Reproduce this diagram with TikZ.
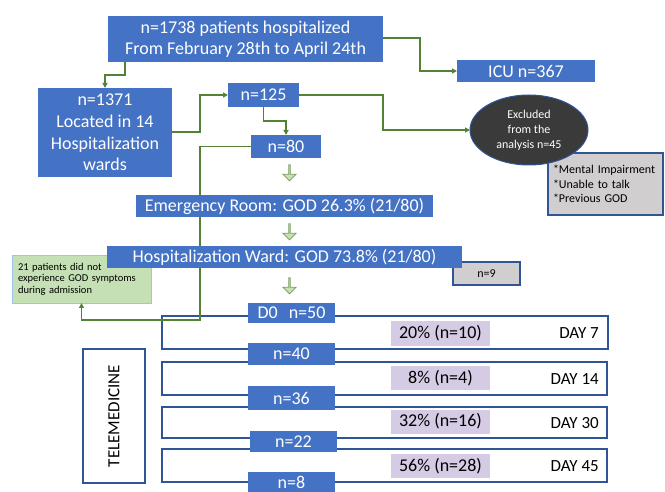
\documentclass[tikz,border=0pt]{standalone}
\usepackage{fontspec}
\setmainfont{Carlito}
\usetikzlibrary{shapes.geometric,shapes.arrows,arrows.meta}

\definecolor{boxblue}{HTML}{4472C4}
\definecolor{lineblue}{HTML}{2F5597}
\definecolor{flowgreen}{HTML}{548235}
\definecolor{paleGreen}{HTML}{C5E0B4}
\definecolor{paleBlue}{HTML}{9DC3E6}
\definecolor{critGray}{HTML}{D0CECE}
\definecolor{pctPurple}{HTML}{D5CBE4}
\definecolor{exclGray}{HTML}{3A3A3A}

\begin{document}
\begin{tikzpicture}[x=1pt,y=-1pt,
    bluebox/.style={fill=boxblue,text=white,inner sep=0pt,align=center,
      font=\fontsize{18}{21}\selectfont},
    flow/.style={draw=flowgreen,line width=1.6pt,
      -{Triangle[length=5pt,width=5pt]}},
    dayline/.style={draw=lineblue,line width=1.5pt,fill=white,inner sep=0pt},
    pct/.style={fill=pctPurple,inner sep=0pt,minimum width=99pt,minimum height=24pt,
      font=\fontsize{18}{20}\selectfont},
    daytext/.style={anchor=east,inner sep=0pt,font=\fontsize{17}{20}\selectfont},
    downarrow/.style={single arrow,shape border rotate=270,draw=flowgreen!80,
      fill=paleGreen,line width=0.8pt,inner sep=0pt,minimum width=13pt,
      minimum height=16pt,single arrow head extend=3.5pt}]
  \useasboundingbox (0,0) rectangle (665,492);

  % follow-up rows
  \node[dayline,minimum width=446pt,minimum height=33pt] (day7) at (385,332.5) {};
  \node[dayline,minimum width=445pt,minimum height=33pt] (day14) at (384.5,378.5) {};
  \node[dayline,minimum width=445pt,minimum height=31pt] (day30) at (384.5,422.5) {};
  \node[dayline,minimum width=445pt,minimum height=33pt] (day45) at (384.5,465.5) {};
  \node[pct] (p7) at (440.5,333.5) {20\% (n=10)};
  \node[pct] (p14) at (440.5,378) {8\% (n=4)};
  \node[pct] (p30) at (440.5,421.5) {32\% (n=16)};
  \node[pct] (p45) at (440.5,466) {56\% (n=28)};
  \node[daytext] (l7) at (599,333) {DAY 7};
  \node[daytext] (l14) at (599,379) {DAY 14};
  \node[daytext] (l30) at (599,423) {DAY 30};
  \node[daytext] (l45) at (599,466) {DAY 45};

  \node[draw=lineblue,line width=1.5pt,rotate=90,minimum width=134pt,
    minimum height=62pt,inner sep=0pt,font=\fontsize{17}{20}\selectfont] %
    (tele) at (114,416) {TELEMEDICINE};

  % side boxes
  \node[fill=paleGreen,draw=paleBlue,line width=0.8pt,minimum width=139pt,
    minimum height=48pt,text width=127pt,inner sep=0pt,align=left,
    font=\fontsize{10.5}{11.7}\selectfont] %
    (nogod) at (81.5,279) {21 patients did not\\experience GOD symptoms\\during admission};
  \node[fill=critGray,draw=lineblue,line width=1.5pt,minimum width=115pt,
    minimum height=62pt,text width=105pt,inner sep=0pt,align=left,
    font=\fontsize{12}{14.5}\selectfont] %
    (crit) at (605.5,184) {{*}Mental Impairment\\{*}Unable to talk\\{*}Previous GOD};
  \node[fill=critGray,draw=lineblue,line width=1.5pt,minimum width=67pt,
    minimum height=23pt,inner sep=0pt,font=\fontsize{12}{14}\selectfont] %
    (nine) at (486.5,273.5) {n=9};

  % connectors
  \draw[flow] (125,62) -- ++(0,13) -| (105,88);
  \draw[flow] (383,38) -- ++(37,0) |- (457,71);
  \draw[flow] (172,132) -- ++(28,0) |- (228,95);
  \draw[flow] (263.5,107) -- ++(0,14) -| (286,135);
  \draw[flow] (299,95) -- ++(84,0) |- (470,130);
  \draw[flow] (251,146.5) -| (200,320) -| (81.5,303);

  % main boxes
  \node[bluebox,minimum width=275pt,minimum height=46pt] (top) at (245.5,39)
    {n=1738 patients hospitalized\\From February 28th to April 24th};
  \node[bluebox,minimum width=134pt,minimum height=89pt,
    font=\fontsize{18}{21.7}\selectfont] (wards) at (105,132.5)
    {n=1371\\Located in 14\\Hospitalization\\wards};
  \node[bluebox,minimum width=138pt,minimum height=22pt] (icu) at (526,71) {ICU n=367};
  \node[bluebox,minimum width=71pt,minimum height=24pt] (n125) at (263.5,95) {n=125};
  \node[bluebox,minimum width=70pt,minimum height=23pt] (n80) at (286,146.5) {n=80};
  \node[ellipse,fill=exclGray,draw=lineblue,line width=1pt,text=white,
    minimum width=118pt,minimum height=70pt,inner sep=0pt,align=center,
    font=\fontsize{12}{15}\selectfont] (excl) at (529,130)
    {Excluded\\from the\\analysis n=45};
  \node[bluebox,minimum width=297pt,minimum height=22pt] (er) at (284.5,206)
    {Emergency Room: GOD 26.3\% (21/80)};
  \node[bluebox,minimum width=355pt,minimum height=22pt] (ward) at (284.5,257)
    {Hospitalization Ward: GOD 73.8\% (21/80)};
  \node[downarrow] (a1) at (289.5,172.5) {};
  \node[downarrow] (a2) at (289.5,231.5) {};
  \node[downarrow] (a3) at (289.5,285.5) {};

  \node[bluebox,minimum width=87pt,minimum height=20pt] (d0) at (291.5,313) {D0\hspace{11pt}n=50};
  \node[bluebox,minimum width=87pt,minimum height=22pt] (n40) at (291.5,354) {n=40};
  \node[bluebox,minimum width=87pt,minimum height=24pt] (n36) at (291.5,398) {n=36};
  \node[bluebox,minimum width=87pt,minimum height=21pt] (n22) at (293.5,441.5) {n=22};
  \node[bluebox,minimum width=87pt,minimum height=20pt] (n8) at (291.5,482) {n=8};
\end{tikzpicture}
\end{document}
